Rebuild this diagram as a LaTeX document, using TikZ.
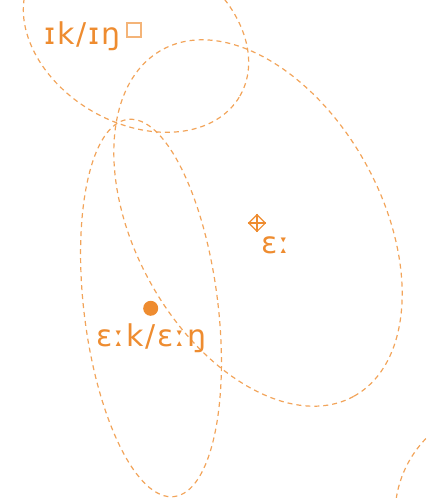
\documentclass[tikz,border=0pt]{standalone}
\usepackage{fontspec}
\newfontfamily\ipafont[LetterSpace=6]{DejaVu Sans}
\usetikzlibrary{shapes.geometric}
\definecolor{vowelcol}{RGB}{238,140,48}
\definecolor{regionline}{RGB}{242,164,90}
\tikzset{
  region/.style={draw=regionline,dash pattern=on 5pt off 4pt,line width=1.2pt},
  ipa/.style={font=\ipafont\fontsize{30}{34}\selectfont,text=vowelcol,inner sep=0pt,anchor=base west},
  target/.style={circle,fill=vowelcol,minimum size=15pt,inner sep=0pt},
  mean/.style={diamond,draw=vowelcol,line width=1.1pt,minimum size=17pt,inner sep=0pt},
  gapbox/.style={rectangle,draw=vowelcol!65,line width=1.2pt,minimum size=14pt,inner sep=0pt},
}
\begin{document}
\begin{tikzpicture}[x=1pt,y=1pt]
  \useasboundingbox (0,0) rectangle (426,-498);
  \clip (0,0) rectangle (426,-498);
  % regions
  \draw[region] (136,-36) ellipse [x radius=120,y radius=87,rotate=-30];
  \draw[region] (258,-223) ellipse [x radius=198,y radius=123,rotate=-61];
  \draw[region] (151,-308) ellipse [x radius=67,y radius=190,rotate=7];
  \draw[region] (505,-515) circle (110);
  % markers
  \node[mean] (meanE) at (257,-223) {};
  \draw[vowelcol,line width=1.1pt] (meanE.north) -- (meanE.south);
  \draw[vowelcol,line width=1.1pt] (meanE.west) -- (meanE.east);
  \node[target] (dotEk) at (150.7,-308.3) {};
  \node[gapbox] (boxIk) at (134,-30) {};
  % labels
  \node[ipa] (labIk) at (44,-44) {ɪk/ɪŋ};
  \node[ipa] (labE) at (261,-253) {ɛː};
  \node[ipa] (labEk) at (96,-346) {ɛːk/ɛːŋ};
\end{tikzpicture}
\end{document}
